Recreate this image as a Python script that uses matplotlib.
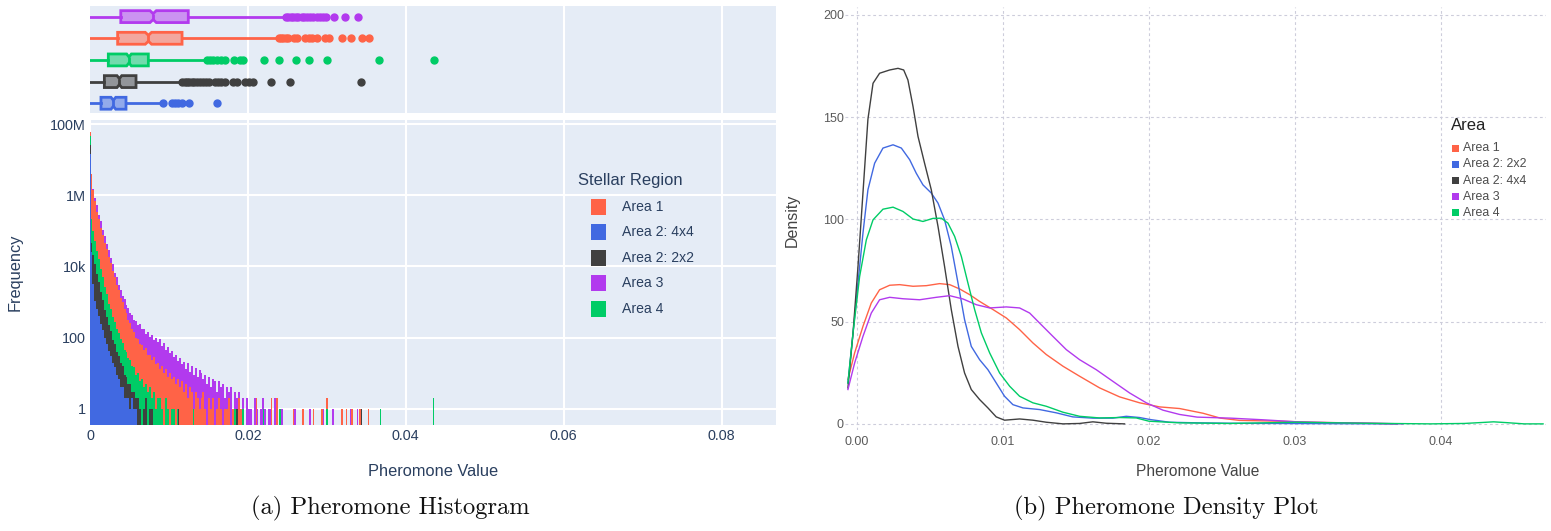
#!/usr/bin/env python3
"""
Pheromone histogram + box strip (left) and density curves (right)
"""

import numpy as np
import matplotlib
matplotlib.use('Agg')
import matplotlib.pyplot as plt
from matplotlib.colors import to_rgba
from matplotlib.patches import Rectangle

W, H = 1551, 531

# colours
c_red = '#FF6347'
c_blue = '#4169E1'
c_dark = '#404040'
c_purple = '#B23AEE'
c_green = '#00CC66'

# ---------------- histogram data (left) ----------------
bin_w = 0.00025
# counts per bin starting at 0
hist_area1 = [4000000, 1400000, 700000, 340000, 210000, 120000, 78000, 45000, 31000, 18000,
              12500, 7200, 5000, 3000, 2200, 1300, 980, 620, 490, 310,
              260, 170, 145, 100, 92, 65, 62, 44, 50, 33,
              32, 24, 28, 18, 19, 13, 16, 10, 13, 8,
              10, 7, 8, 5, 7, 4, 6, 3, 5, 2,
              4, 3, 1, 3, 2, 1, 2, 3, 1, 0,
              2, 1, 2, 0, 1, 2, 1, 0, 1, 1,
              2, 0, 1, 1, 0, 2, 1]
hist_4x4 = [25000, 3200, 1100, 620, 410, 240, 165, 95, 68, 42, 31, 19, 15, 9, 7, 4, 4, 2, 2, 2,
            1, 2, 1, 1]
hist_2x2 = [45000, 21000, 11500, 6000, 3600, 1900, 1150, 600, 390, 225, 155, 88, 66, 40, 31, 19,
            16, 9, 8, 5, 5, 3, 3, 2, 2, 1, 0, 1, 2, 0, 1, 1]
hist_area3 = [3000000, 1500000, 820000, 520000, 270000, 185000, 105000, 72000, 43000, 29000,
              17000, 11500, 6600, 5000, 3000, 2200, 1500, 1200, 800, 680,
              480, 420, 310, 290, 230, 240, 170, 180, 130, 145,
              105, 120, 85, 100, 75, 90, 58, 70, 45, 56,
              38, 43, 29, 33, 22, 27, 18, 21, 13, 19,
              11, 16, 9, 14, 8, 12, 10, 7, 9, 5,
              8, 4, 7, 6, 3, 6, 4, 5, 2, 4,
              3, 4, 1, 3, 2, 3, 1, 2, 0, 2,
              1, 1, 0, 2, 1, 0, 1, 2, 1, 0,
              1, 1, 0, 2, 1, 0, 1, 1]
hist_area4 = [220000, 100000, 52000, 27000, 16500, 8600, 5200, 2700, 1650, 900, 620, 380, 270,
              175, 135, 90, 72, 46, 40, 27, 24, 16, 15, 9, 10, 6, 7, 4, 5, 3, 4, 2, 3, 1, 2, 2,
              1, 0, 2, 1, 0, 1, 1, 0, 1]
# first (very narrow) bin at zero
spike_area1, spike_4x4, spike_2x2, spike_area3, spike_area4 = 59e6, 14e6, 26e6, 50e6, 46e6
# isolated bars far out in the tail
tail_area1_x = [0.0211, 0.0230, 0.0237, 0.0258, 0.0270, 0.0283, 0.0294, 0.0300, 0.0319, 0.0325,
                0.0332, 0.0342, 0.0353]
tail_area1_n = [2, 2, 2, 1, 1, 1, 1, 2, 1, 1, 1, 1, 1]
tail_2x2_x = [0.0112, 0.0186, 0.0344]
tail_2x2_n = [1, 1, 1]
tail_area3_x = [0.0260, 0.0279, 0.0295, 0.0308, 0.0320, 0.0330, 0.0339, 0.0342]
tail_area3_n = [1, 1, 1, 1, 1, 1, 1, 1]
tail_area4_x = [0.0131, 0.0184, 0.0194, 0.0220, 0.0241, 0.0300, 0.0368, 0.0435]
tail_area4_n = [1, 1, 1, 1, 1, 1, 1, 2]

# ---------------- box plot data (top strip) ----------------
# q1, median, q3, upper whisker, notch half width
box_area1 = [0.0035, 0.0074, 0.01166, 0.0237, 0.0004]
box_4x4 = [0.00139, 0.00296, 0.00456, 0.00908, 0.0003]
box_2x2 = [0.00182, 0.00372, 0.00583, 0.01162, 0.0003]
box_area3 = [0.0039, 0.0080, 0.01245, 0.0247, 0.0004]
box_area4 = [0.00232, 0.00494, 0.00739, 0.01479, 0.0003]
fliers_area1 = [0.0239, 0.0242, 0.0245, 0.0248, 0.0251, 0.0258, 0.0262, 0.0272, 0.0277, 0.0281,
                0.0288, 0.0298, 0.0303, 0.0319, 0.0330, 0.0344, 0.0353]
fliers_4x4 = [0.0093, 0.0104, 0.0108, 0.0112, 0.0116, 0.0125, 0.0161]
fliers_2x2 = [0.0117, 0.0120, 0.0123, 0.0126, 0.0129, 0.0132, 0.0135, 0.0139, 0.0143, 0.0147,
              0.0151, 0.0158, 0.0162, 0.0166, 0.0171, 0.0181, 0.0186, 0.0196, 0.0201, 0.0207,
              0.0229, 0.0253, 0.0343]
fliers_area3 = [0.0248, 0.0251, 0.0254, 0.0257, 0.0261, 0.0264, 0.0268, 0.0271, 0.0275, 0.0279,
                0.0283, 0.0287, 0.0291, 0.0295, 0.0299, 0.0309, 0.0323, 0.0339]
fliers_area4 = [0.0148, 0.0152, 0.0156, 0.0161, 0.0166, 0.0171, 0.0183, 0.0190, 0.0194, 0.0220,
                0.0240, 0.0261, 0.0278, 0.0300, 0.0366, 0.0436]

# ---------------- density data (right) ----------------
dens_area1_x = [-0.00062, -0.00016, 0.00041, 0.00098, 0.00155, 0.00224, 0.00292, 0.00384, 0.00475,
                0.00566, 0.00635, 0.00703, 0.00772, 0.0084, 0.00932, 0.01023, 0.01114, 0.01205,
                0.01297, 0.01411, 0.01525, 0.01662, 0.01799, 0.01936, 0.02073, 0.0221, 0.0237,
                0.0249, 0.0262, 0.029, 0.0312, 0.0335, 0.037]
dens_area1_y = [21.7, 34.7, 47.7, 59.1, 65.6, 67.8, 68.1, 67.3, 67.6, 68.6, 68.1, 66.0, 63.2, 59.9,
                55.9, 51.8, 46.1, 39.6, 33.9, 28.2, 23.3, 17.6, 13.2, 10.3, 8.3, 7.5, 5.2, 2.8,
                1.7, 1.3, 0.8, 0.5, 0.0]
dens_2x2_x = [-0.00062, -0.00027, 0.00007, 0.00041, 0.00075, 0.00121, 0.00178, 0.00247, 0.00304,
              0.00361, 0.00406, 0.00452, 0.00509, 0.00555, 0.006, 0.00646, 0.00692, 0.00737,
              0.00783, 0.0084, 0.00897, 0.00954, 0.01011, 0.01068, 0.01137, 0.01251, 0.01365,
              0.01479, 0.01616, 0.01753, 0.01845, 0.01936, 0.0201, 0.0214, 0.0233, 0.0255, 0.0301,
              0.037]
dens_2x2_y = [20.0, 44.5, 68.9, 93.3, 114.5, 127.5, 134.9, 136.5, 134.9, 129.2, 122.6, 116.9, 112.9,
              108.0, 99.8, 86.8, 68.9, 51.0, 37.9, 31.4, 26.5, 20.0, 13.5, 9.4, 7.8, 7.0, 5.4, 3.4,
              2.8, 2.8, 3.7, 3.1, 2.1, 0.8, 0.5, 0.3, 0.15, 0.0]
dens_4x4_x = [-0.00062, -0.00027, 0.00007, 0.00041, 0.00075, 0.0011, 0.00155, 0.00224, 0.00281,
              0.0032, 0.00349, 0.00384, 0.00418, 0.00463, 0.00509, 0.00555, 0.006, 0.00646,
              0.00692, 0.00737, 0.00783, 0.0084, 0.00897, 0.00954, 0.01011, 0.01114, 0.01205,
              0.01297, 0.01411, 0.01525, 0.01616, 0.01708, 0.01833]
dens_4x4_y = [17.6, 44.5, 77.0, 113.0, 149.0, 166.6, 171.5, 173.1, 173.9, 173.1, 168.2, 155.2,
              140.6, 127.5, 114.5, 96.6, 77.0, 55.9, 37.9, 24.9, 16.8, 11.9, 7.8, 3.4, 1.8, 2.4,
              1.8, 0.8, 0.0, 0.2, 1.0, 0.3, 0.0]
dens_area3_x = [-0.00062, -0.00016, 0.00041, 0.00098, 0.00155, 0.00224, 0.00315, 0.00429, 0.00543,
                0.00635, 0.00726, 0.00817, 0.00909, 0.01023, 0.01114, 0.01183, 0.01251, 0.01342,
                0.01434, 0.01525, 0.01639, 0.01753, 0.01868, 0.01982, 0.02096, 0.0221, 0.0233,
                0.0256, 0.0278, 0.0301, 0.0324, 0.0347, 0.0374]
dens_area3_y = [16.8, 29.8, 42.8, 54.2, 60.7, 61.9, 61.2, 60.7, 61.9, 62.7, 61.1, 58.3, 56.7, 57.2,
                56.7, 54.2, 49.3, 42.8, 36.3, 31.4, 26.5, 20.8, 15.1, 10.3, 6.7, 4.6, 3.3, 2.8,
                2.0, 1.0, 0.6, 0.4, 0.0]
dens_area4_x = [-0.00062, -0.00027, 0.00018, 0.00064, 0.0011, 0.00178, 0.00247, 0.00315, 0.00384,
                0.00452, 0.0052, 0.00578, 0.00623, 0.00669, 0.00715, 0.0076, 0.00806, 0.00852,
                0.00909, 0.00977, 0.01046, 0.01114, 0.01205, 0.01297, 0.01411, 0.01525, 0.01662,
                0.01799, 0.01913, 0.0200, 0.0221, 0.0255, 0.0301, 0.0347, 0.0393, 0.0416, 0.0429,
                0.0436, 0.0445, 0.0457, 0.0470]
dens_area4_y = [20.0, 44.5, 72.0, 90.0, 99.8, 105.0, 106.0, 103.9, 100.2, 99.0, 100.5, 100.6, 98.2,
                91.7, 81.9, 68.9, 55.9, 44.5, 34.7, 24.9, 18.4, 13.5, 10.3, 8.6, 5.7, 3.7, 2.9,
                3.1, 2.9, 1.3, 0.5, 0.2, 0.8, 0.3, 0.0, 0.2, 0.7, 1.0, 0.6, 0.0, 0.0]


def fx(px):
    return px / W


def fy(py):
    return 1 - py / H


plotly_font = 'Liberation Sans'
plotly_text = '#2a3f5f'
plotly_bg = '#E5ECF6'

fig = plt.figure(figsize=(W / 100, H / 100), dpi=100)
fig.patch.set_facecolor('white')

# ---------------- top strip: notched box plots ----------------
ax_box = fig.add_axes([fx(90), fy(113), fx(776) - fx(90), fy(6) - fy(113)])
ax_box.set_facecolor(plotly_bg)
box_rows = [  # bottom to top
    (box_4x4, fliers_4x4, c_blue),
    (box_2x2, fliers_2x2, c_dark),
    (box_area4, fliers_area4, c_green),
    (box_area1, fliers_area1, c_red),
    (box_area3, fliers_area3, c_purple),
]
for i, (b, fl, col) in enumerate(box_rows):
    q1, med, q3, whi, notch = b
    stats = [dict(q1=q1, med=med, q3=q3, whislo=0.0, whishi=whi, fliers=fl,
                  cilo=med - notch, cihi=med + notch)]
    ax_box.bxp(stats, positions=[i], widths=0.55, orientation='horizontal', shownotches=True,
               patch_artist=True, showcaps=False, manage_ticks=False,
               boxprops=dict(facecolor=to_rgba(col, 0.5), edgecolor=col, linewidth=2),
               medianprops=dict(color=col, linewidth=2),
               whiskerprops=dict(color=col, linewidth=2),
               flierprops=dict(marker='o', markerfacecolor=col, markeredgecolor=col,
                               markersize=5, linestyle='none'))
ax_box.set_xlim(0, 0.0869)
ax_box.set_ylim(-0.45, 4.49)
ax_box.set_xticks([0.02, 0.04, 0.06, 0.08])
ax_box.set_yticks([])
ax_box.tick_params(length=0, labelbottom=False)
ax_box.grid(True, axis='x', color='white', linewidth=1.5)
ax_box.set_axisbelow(True)
for s in ax_box.spines.values():
    s.set_visible(False)

# ---------------- histogram ----------------
ax_h = fig.add_axes([fx(90), fy(425), fx(776) - fx(90), fy(120) - fy(425)])
ax_h.set_facecolor(plotly_bg)
ax_h.set_yscale('log')
hist_rows = [  # drawn back to front
    (hist_area3, spike_area3, tail_area3_x, tail_area3_n, c_purple),
    (hist_area1, spike_area1, tail_area1_x, tail_area1_n, c_red),
    (hist_area4, spike_area4, tail_area4_x, tail_area4_n, c_green),
    (hist_2x2, spike_2x2, tail_2x2_x, tail_2x2_n, c_dark),
    (hist_4x4, spike_4x4, [], [], c_blue),
]
for counts, spike, tx, tn, col in hist_rows:
    edges = np.arange(len(counts)) * bin_w
    ax_h.bar(edges, counts, width=bin_w, align='edge', bottom=0.01, color=col, linewidth=0)
    ax_h.bar([0.0], [spike], width=0.00013, align='edge', bottom=0.01, color=col, linewidth=0)
    if tx:
        ax_h.bar(tx, tn, width=0.0002, bottom=0.01, color=col, linewidth=0)
ax_h.set_xlim(0, 0.0869)
ax_h.set_ylim(0.35, 1.3e8)
ax_h.set_xticks([0, 0.02, 0.04, 0.06, 0.08])
ax_h.set_xticklabels(['0', '0.02', '0.04', '0.06', '0.08'])
ax_h.set_yticks([1, 100, 1e4, 1e6, 1e8])
ax_h.set_yticklabels(['1', '100', '10k', '1M', '100M'])
ax_h.minorticks_off()
ax_h.tick_params(length=0, labelsize=10.4, labelcolor=plotly_text, pad=3)
for lab in ax_h.get_xticklabels() + ax_h.get_yticklabels():
    lab.set_fontfamily(plotly_font)
ax_h.grid(True, color='white', linewidth=1.5)
ax_h.set_axisbelow(True)
for s in ax_h.spines.values():
    s.set_visible(False)

fig.text(fx(15), fy(272), 'Frequency', rotation=90, ha='center', va='center',
         fontsize=11.8, color=plotly_text, family=plotly_font)
fig.text(fx(433), fy(472), 'Pheromone Value', ha='center', va='center',
         fontsize=11.8, color=plotly_text, family=plotly_font)

# legend (left)
fig.text(fx(578), fy(181), 'Stellar Region', ha='left', va='center', fontsize=11.9,
         color=plotly_text, family=plotly_font)
left_legend = [('Area 1', c_red), ('Area 2: 4x4', c_blue), ('Area 2: 2x2', c_dark),
               ('Area 3', c_purple), ('Area 4', c_green)]
for k, (lab, col) in enumerate(left_legend):
    yc = 206.7 + k * 25.5
    fig.add_artist(Rectangle((fx(591), fy(yc + 8)), fx(15), fy(yc - 8) - fy(yc + 8),
                             transform=fig.transFigure, facecolor=col, edgecolor='none'))
    fig.text(fx(622), fy(yc), lab, ha='left', va='center', fontsize=10.1,
             color=plotly_text, family=plotly_font)

# ---------------- density plot (right) ----------------
ax_d = fig.add_axes([fx(845.3), fy(430), fx(1546) - fx(845.3), fy(6.8) - fy(430)])
dens_rows = [
    (dens_area1_x, dens_area1_y, c_red),
    (dens_2x2_x, dens_2x2_y, c_blue),
    (dens_4x4_x, dens_4x4_y, c_dark),
    (dens_area3_x, dens_area3_y, c_purple),
    (dens_area4_x, dens_area4_y, c_green),
]
for xs, ys, col in dens_rows:
    ax_d.plot(xs, ys, color=col, linewidth=1.0)
ax_d.set_xlim(-0.0008, 0.0472)
ax_d.set_ylim(-3, 204)
ax_d.set_xticks([0.0, 0.01, 0.02, 0.03, 0.04])
ax_d.set_xticklabels(['0.00', '0.01', '0.02', '0.03', '0.04'])
ax_d.set_yticks([0, 50, 100, 150, 200])
ax_d.tick_params(length=0, labelsize=9, labelcolor='#5a5a5a', pad=4)
ax_d.tick_params(axis='y', pad=1)
for lab in ax_d.get_xticklabels() + ax_d.get_yticklabels():
    lab.set_fontfamily(plotly_font)
ax_d.grid(True, color='#cdcddb', linewidth=0.8, linestyle=(0, (2.5, 2.5)))
ax_d.set_axisbelow(True)
for s in ax_d.spines.values():
    s.set_visible(False)

fig.text(fx(792), fy(220), 'Density', rotation=90, ha='center', va='center',
         fontsize=11.5, color='#444444', family=plotly_font)
fig.text(fx(1198), fy(471.5), 'Pheromone Value', ha='center', va='center',
         fontsize=11.2, color='#444444', family=plotly_font)

# legend (right)
fig.text(fx(1451), fy(125), 'Area', ha='left', va='center', fontsize=12,
         color='#222222', family=plotly_font)
right_legend = [('Area 1', c_red), ('Area 2: 2x2', c_blue), ('Area 2: 4x4', c_dark),
                ('Area 3', c_purple), ('Area 4', c_green)]
for k, (lab, col) in enumerate(right_legend):
    yc = 148.3 + k * 16.1
    fig.add_artist(Rectangle((fx(1452), fy(yc + 3.3)), fx(6.6), fy(yc - 3.3) - fy(yc + 3.3),
                             transform=fig.transFigure, facecolor=col, edgecolor='none'))
    fig.text(fx(1463), fy(yc), lab, ha='left', va='center', fontsize=8.9,
             color='#4d4d4d', family=plotly_font)

# ---------------- captions ----------------
fig.text(fx(390.5), fy(508), '(a) Pheromone Histogram', ha='center', va='center',
         fontsize=17.7, family='cmr10', color='#111111')
fig.text(fx(1166.5), fy(508), '(b) Pheromone Density Plot', ha='center', va='center',
         fontsize=17.7, family='cmr10', color='#111111')

fig.savefig('out.png', dpi=100)
